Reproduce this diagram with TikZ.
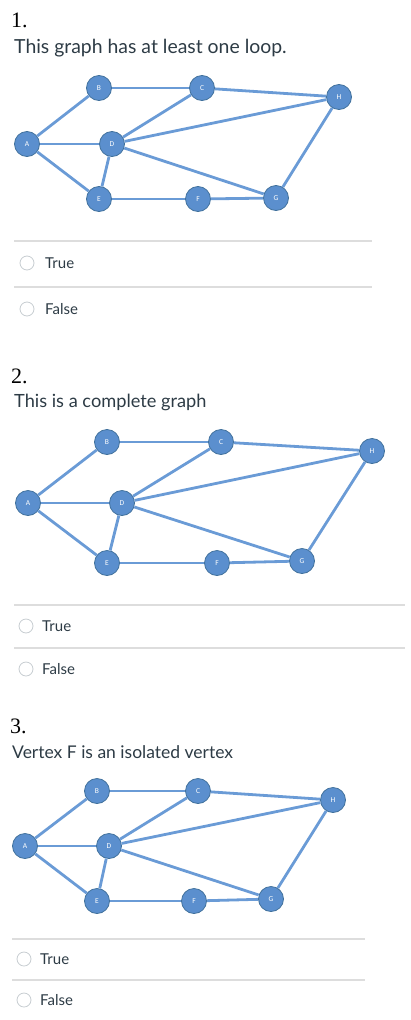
\documentclass[tikz,border=0pt]{standalone}
\usepackage{fontspec}
\setmainfont{Lato}
\newfontfamily\numfont{Liberation Serif}
\newfontfamily\petitfont{Carlito}
\usepackage{xcolor}

\definecolor{bleusommet}{HTML}{5B8FCE}
\definecolor{bordsommet}{HTML}{41719C}
\definecolor{bleuarete}{HTML}{6A9BD6}
\definecolor{gristexte}{HTML}{2D3B45}
\definecolor{gristrait}{HTML}{DDDDDD}
\definecolor{grisradio}{HTML}{C7CDD1}

\tikzset{
  sommet/.style={circle, fill=bleusommet, draw=bordsommet, line width=0.8pt,
    inner sep=0pt, minimum size=25pt, text=white,
    font=\petitfont\fontsize{7.5}{7.5}\selectfont},
  arete/.style={draw=bleuarete, line width=2.8pt},
  numero/.style={anchor=base west, inner sep=0pt, text=black,
    font=\numfont\fontsize{22}{22}\selectfont},
  question/.style={anchor=base west, inner sep=0pt, text=gristexte,
    font=\fontsize{17.5}{17.5}\selectfont},
  choix/.style={anchor=base west, inner sep=0pt, text=gristexte,
    font=\fontsize{15}{15}\selectfont},
  radio/.style={circle, draw=grisradio, fill=white, line width=0.8pt,
    inner sep=0pt, minimum size=14pt},
  trait/.style={draw=gristrait, line width=1.2pt}
}

\begin{document}
\begin{tikzpicture}[x=1pt, y=-1pt]
  \useasboundingbox (0,0) rectangle (410,1020);

  % Question 1
  \node[numero] (n1) at (11,27) {1.};
  \node[question, font=\fontsize{19.4}{19.4}\selectfont] (q1) at (14,53) {This graph has at least one loop.};

  \node[sommet] (A1) at (27,144) {A};
  \node[sommet] (B1) at (99,88) {B};
  \node[sommet] (C1) at (202,88) {C};
  \node[sommet] (D1) at (112,144) {D};
  \node[sommet] (E1) at (99,199) {E};
  \node[sommet] (F1) at (198,199) {F};
  \node[sommet] (G1) at (276,198) {G};
  \node[sommet] (H1) at (339,97) {H};

  \draw[trait] (14,241) -- (372,241);
  \node[radio] (r1a) at (27,263) {};
  \node[choix] (t1a) at (45,268) {True};
  \draw[trait] (14,287) -- (372,287);
  \node[radio] (r1b) at (27,309) {};
  \node[choix] (t1b) at (45,314) {False};

  % Question 2
  \node[numero] (n2) at (11,383) {2.};
  \node[question, font=\fontsize{18.2}{18.2}\selectfont] (q2) at (14,407) {This is a complete graph};

  \begin{scope}[every node/.append style={minimum size=28pt}]
  \node[sommet] (A2) at (28,503) {A};
  \node[sommet] (B2) at (107,442) {B};
  \node[sommet] (C2) at (221,442) {C};
  \node[sommet] (D2) at (122,503) {D};
  \node[sommet] (E2) at (107,563) {E};
  \node[sommet] (F2) at (217,563) {F};
  \node[sommet] (G2) at (302,561) {G};
  \node[sommet] (H2) at (372,451) {H};
  \end{scope}

  \draw[trait] (14,605) -- (405,605);
  \node[radio] (r2a) at (26,626) {};
  \node[choix] (t2a) at (42,631) {True};
  \draw[trait] (14,648) -- (405,648);
  \node[radio] (r2b) at (26,669) {};
  \node[choix] (t2b) at (42,674) {False};

  % Question 3
  \node[numero] (n3) at (10,733) {3.};
  \node[question] (q3) at (12,758) {Vertex F is an isolated vertex};

  \begin{scope}[every node/.append style={minimum size=26pt}]
  \node[sommet] (A3) at (25,846) {A};
  \node[sommet] (B3) at (97,791) {B};
  \node[sommet] (C3) at (198,791) {C};
  \node[sommet] (D3) at (109,846) {D};
  \node[sommet] (E3) at (97,901) {E};
  \node[sommet] (F3) at (194,901) {F};
  \node[sommet] (G3) at (271,899) {G};
  \node[sommet] (H3) at (333,800) {H};
  \end{scope}

  \draw[trait] (12,939) -- (365,939);
  \node[radio] (r3a) at (24,959) {};
  \node[choix] (t3a) at (40,964) {True};
  \draw[trait] (12,980) -- (365,980);
  \node[radio] (r3b) at (24,1000) {};
  \node[choix] (t3b) at (40,1005) {False};

  % Aretes des trois graphes
  \foreach \g in {1,2,3}
    \foreach \u/\v in {A/B, A/D, A/E, B/C, C/H, C/D, D/H, D/G, D/E, E/F, F/G, G/H}
      \draw[arete] (\u\g) -- (\v\g);
\end{tikzpicture}
\end{document}
